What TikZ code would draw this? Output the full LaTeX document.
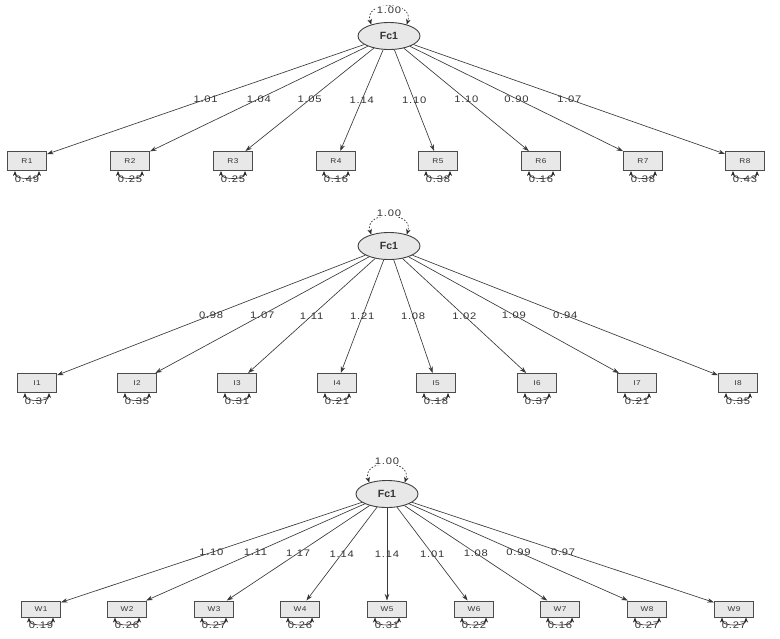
\documentclass[tikz,border=0pt]{standalone}
\usepackage{fontspec}
\setmainfont{Liberation Sans}
\newfontfamily\labfont[FakeStretch=1.18,LetterSpace=8]{Liberation Sans}
\usetikzlibrary{arrows.meta,shapes.geometric}
\tikzset{
  lat/.style={ellipse, draw=black!75, fill=black!9, line width=0.9pt, minimum width=62pt, minimum height=27pt, inner sep=0pt, font=\fontsize{10.5}{10.5}\selectfont\bfseries, text=black!80},
  man/.style={rectangle, draw=black!70, fill=black!9, line width=1pt, minimum width=39pt, minimum height=19pt, inner sep=0pt, font=\labfont\fontsize{7}{7}\selectfont, text=black!80},
  loadarr/.style={-{Stealth[length=6.5pt,width=4.5pt]}, draw=black!78, line width=0.65pt},
  resarr/.style={{Stealth[length=5pt,width=4pt]}-{Stealth[length=5pt,width=4pt]}, draw=black!85, line width=0.6pt},
  looparr/.style={{Stealth[length=5.5pt,width=4.5pt]}-{Stealth[length=5.5pt,width=4.5pt]}, draw=black!85, line width=0.65pt, dash pattern=on 1.6pt off 1.6pt},
  elab/.style={font=\labfont\fontsize{9.5}{9.5}\selectfont, text=black!80, inner sep=0pt},
  vlab/.style={font=\labfont\fontsize{9.5}{9.5}\selectfont, text=black!80, inner sep=1pt, fill=white},
}
\begin{document}
\begin{tikzpicture}[x=1pt,y=-1pt]
\useasboundingbox (0,0) rectangle (780,638);
% ---------- panel 1
\node[lat] (pa) at (389,36) {Fc1};
\draw[looparr] (pa.147) .. controls +(-8,-24) and +(8,-24) .. (pa.33);
\node[vlab] (pav) at (389,10) {1.00};
\foreach \n/\x/\l/\r [count=\i] in {R1/27/1.01/0.49,R2/130/1.04/0.25,R3/233/1.05/0.25,R4/336/1.14/0.16,R5/438/1.10/0.38,R6/541/1.10/0.16,R7/643/0.90/0.38,R8/745/1.07/0.43}{
  \node[man] (pab\i) at (\x,161) {\n};
  \draw[loadarr] (pa) -- node[elab]{\l} (pab\i);
  \draw[resarr] ([xshift=-12pt]pab\i.south) .. controls +(0,9) and +(0,9) .. ([xshift=12pt]pab\i.south);
  \node[elab] (par\i) at ([yshift=-8pt]pab\i.south) {\r};
}
% ---------- panel 2
\node[lat] (pb) at (389,246) {Fc1};
\draw[looparr] (pb.147) .. controls +(-8,-24) and +(8,-24) .. (pb.33);
\node[vlab] (pbv) at (389,213) {1.00};
\foreach \n/\x/\l/\r [count=\i] in {I1/37/0.98/0.37,I2/137/1.07/0.35,I3/237/1.11/0.31,I4/337/1.21/0.21,I5/436/1.08/0.18,I6/537/1.02/0.37,I7/637/1.09/0.21,I8/738/0.94/0.35}{
  \node[man] (pbb\i) at (\x,383) {\n};
  \draw[loadarr] (pb) -- node[elab]{\l} (pbb\i);
  \draw[resarr] ([xshift=-12pt]pbb\i.south) .. controls +(0,9) and +(0,9) .. ([xshift=12pt]pbb\i.south);
  \node[elab] (pbr\i) at ([yshift=-8pt]pbb\i.south) {\r};
}
% ---------- panel 3
\node[lat] (pc) at (387,494) {Fc1};
\draw[looparr] (pc.147) .. controls +(-8,-24) and +(8,-24) .. (pc.33);
\node[vlab] (pcv) at (387,461) {1.00};
\foreach \n/\x/\l/\r [count=\i] in {W1/41/1.10/0.19,W2/127/1.11/0.26,W3/214/1.17/0.27,W4/300/1.14/0.26,W5/387/1.14/0.31,W6/474/1.01/0.22,W7/560/1.08/0.16,W8/647/0.99/0.27,W9/734/0.97/0.27}{
  \node[man, minimum height=16pt] (pcb\i) at (\x,609) {\n};
  \draw[loadarr] (pc) -- node[elab]{\l} (pcb\i);
  \draw[resarr] ([xshift=-12pt]pcb\i.south) .. controls +(0,9) and +(0,9) .. ([xshift=12pt]pcb\i.south);
  \node[elab] (pcr\i) at ([yshift=-8pt]pcb\i.south) {\r};
}
\end{tikzpicture}
\end{document}
